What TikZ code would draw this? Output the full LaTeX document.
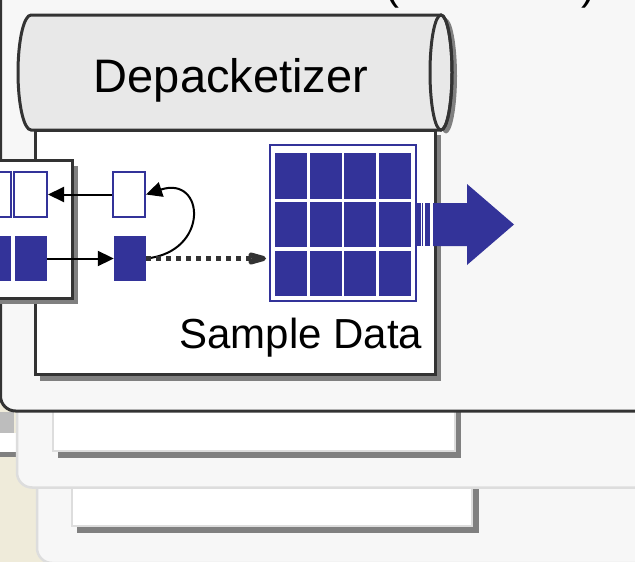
\documentclass[tikz,border=0pt]{standalone}
\usepackage{fontspec}
\setmainfont{Liberation Sans}
\usetikzlibrary{arrows.meta}
\definecolor{dk}{HTML}{333333}
\definecolor{bl}{HTML}{333399}
\definecolor{sh}{HTML}{808080}
\definecolor{pn}{HTML}{F7F7F7}
\definecolor{lb}{HTML}{DDDDDD}
\definecolor{cy}{HTML}{E8E8E8}
\definecolor{bg}{HTML}{EFEBDA}
\definecolor{gb}{HTML}{BDBDBD}
\begin{document}
\begin{tikzpicture}[x=1pt,y=-1pt,
  panel/.style={fill=pn, draw=lb, line width=2.5pt, rounded corners=15pt},
  card/.style={fill=white, draw=lb, line width=2pt},
  shadowbox/.style={fill=sh},
  darkbox/.style={fill=white, draw=dk, line width=3pt},
  ob/.style={draw=bl, fill=white, line width=2pt, inner sep=0pt, minimum width=32pt, minimum height=45pt},
  fb/.style={fill=bl, inner sep=0pt, minimum width=32pt, minimum height=45pt},
  conn/.style={-{Triangle[length=16pt,width=15pt]}, line width=2pt, black},
  dotarrow/.style={-{Stealth[length=36pt,width=20pt,inset=15pt,round]}, line width=5pt, dk, dash pattern=on 5pt off 5pt},
  bigtext/.style={font=\fontsize{47}{52}\selectfont, inner sep=0pt},
  midtext/.style={font=\fontsize{42}{48}\selectfont, inner sep=0pt}
]
\useasboundingbox (0,0) rectangle (635,562);
\clip (0,0) rectangle (635,562);
% background
\fill[bg] (0,0) rectangle (635,562);
\fill[gb] (0,412) rectangle (14,433);
\fill[white] (0,433) rectangle (16,452);
\fill[sh] (0,452) rectangle (16,457);
% third panel
\draw[panel] (37,-30) rectangle (680,563);
\fill[shadowbox] (77,470) rectangle (479,533);
\draw[card] (72,460) rectangle (472,526);
% second panel
\draw[panel] (17,-30) rectangle (680,487.5);
\fill[shadowbox] (58,390) rectangle (461,458);
\draw[card] (53,380) rectangle (455,451);
% main panel
\draw[fill=pn, draw=dk, line width=3pt, rounded corners=15pt] (0.5,-30) rectangle (680,411);
\node[midtext, anchor=base] (lp) at (392,-1) {(};
\node[midtext, anchor=base] (rp) at (588,-1) {)};
% body box
\fill[shadowbox] (40,135) rectangle (441,381);
\draw[darkbox] (35,130) rectangle (435,374);
% cylinder
\fill[sh] (446,76) ellipse [x radius=11pt, y radius=57.5pt];
\filldraw[fill=cy, draw=dk, line width=3pt] (441,15) -- (31,15)
  arc[start angle=90, end angle=270, x radius=13pt, y radius=57.5pt] -- (441,130)
  arc[start angle=-90, end angle=90, x radius=11pt, y radius=57.5pt] -- cycle;
\draw[dk, line width=3pt] (441,72.5) ellipse [x radius=11pt, y radius=57.5pt];
\node[bigtext, anchor=base] (title) at (231,92) {Depacketizer};
% left box
\fill[shadowbox] (-10,166) rectangle (78,304);
\draw[darkbox] (-10,160) rectangle (72,298);
\node[ob, minimum width=31pt] (lo2) at (-4.5,194.5) {};
\node[ob, minimum width=33pt] (lo) at (30.5,194.5) {};
\node[fb, minimum width=31pt] (lf2) at (-4.5,258.5) {};
\node[fb] (lf) at (31,258.5) {};
% middle
\node[ob] (mo) at (129,194.5) {};
\node[fb] (mf) at (130,258.5) {};
% grid
\node[draw=bl, line width=2pt, fill=white, minimum width=146pt, minimum height=156pt, inner sep=0pt] (grid) at (343,223) {};
\foreach \i in {0,...,3}{
  \foreach \j in {0,1,2}{
    \fill[bl] ({275+\i*34.67},{153+\j*48.75}) rectangle +(32,45.5);
  }
}
% connectors
\draw[conn] (mo.west) -- (lo.east);
\draw[conn] (lf.east) -- (mf.west);
\draw[conn] (mf.east) .. controls (210,252) and (205,175) .. (mo.east);
\draw[dotarrow, shorten >=3pt] (mf.east) -- (mf.east -| grid.west);
% big output arrow
\fill[white] (416.5,203) rectangle (433,246);
\fill[bl] (417,203) rectangle (420.5,246);
\fill[bl] (421.7,203) rectangle (423.3,246);
\fill[bl] (424.7,203) rectangle (430,246);
\fill[bl] (433,203) -- (467,203) -- (467,184) -- (514,224.5) -- (467,265) -- (467,246) -- (433,246) -- cycle;
% label
\node[midtext, anchor=base] (sd) at (301,348) {Sample Data};
\end{tikzpicture}
\end{document}
